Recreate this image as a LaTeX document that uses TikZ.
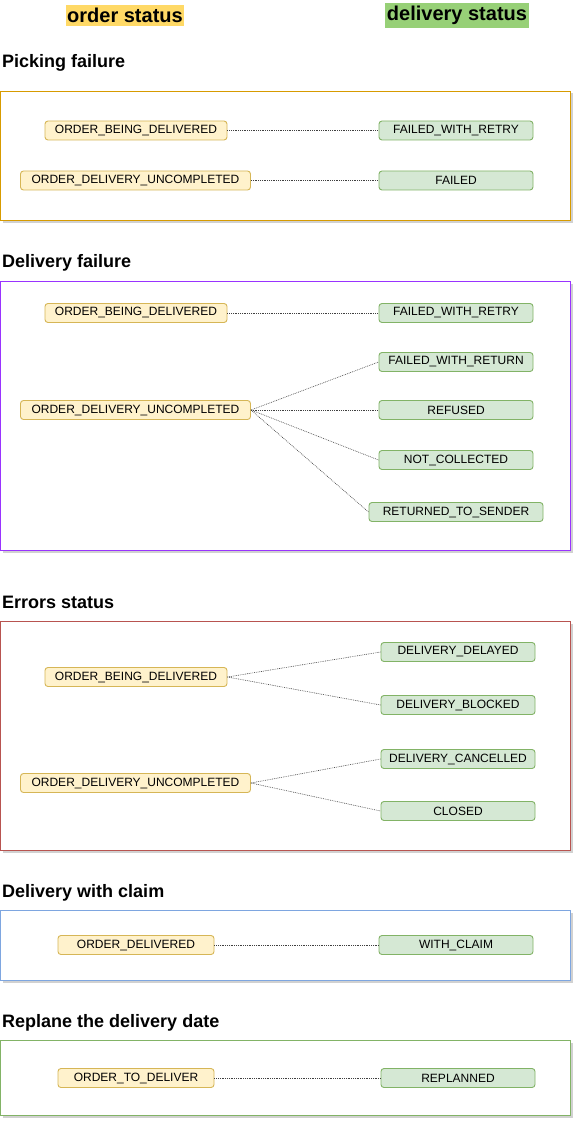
\documentclass[tikz,border=0pt]{standalone}
\usepackage{fontspec}
\setmainfont{Liberation Sans}
\usetikzlibrary{shadows, positioning}

\definecolor{hdrord}{HTML}{FFD966}
\definecolor{hdrdlv}{HTML}{97D077}
\definecolor{ordfill}{HTML}{FFF2CC}
\definecolor{ordline}{HTML}{D6B656}
\definecolor{dlvfill}{HTML}{D5E8D4}
\definecolor{dlvline}{HTML}{82B366}
\definecolor{pickline}{HTML}{D79B00}
\definecolor{failline}{HTML}{9933FF}
\definecolor{errline}{HTML}{B85450}
\definecolor{claimline}{HTML}{7EA6E0}
\definecolor{planline}{HTML}{82B366}

\tikzset{
  ord/.style={draw=ordline, fill=ordfill, line width=0.9pt, rounded corners=3pt,
    minimum height=19pt, inner sep=0pt, font=\fontsize{12}{14}\selectfont},
  dlv/.style={draw=dlvline, fill=dlvfill, line width=0.9pt, rounded corners=3pt,
    minimum height=19pt, minimum width=154pt, inner sep=0pt, font=\fontsize{12}{14}\selectfont},
  head/.style={inner xsep=1.5pt, inner ysep=3.5pt, font=\fontsize{20}{22}\selectfont\bfseries},
  title/.style={anchor=west, inner sep=0pt, font=\fontsize{18}{20}\selectfont\bfseries},
  frame/.style={line width=0.9pt, fill=white,
    drop shadow={opacity=0.3, shadow xshift=2.5pt, shadow yshift=-2.5pt, fill=black!60}},
  link/.style={black!75, line width=0.6pt, dash pattern=on 0.8pt off 1pt},
}

\begin{document}
\begin{tikzpicture}[x=1pt, y=-1pt]

        \useasboundingbox (0, 0) rectangle (574, 1126);

        % column headers
        \node[head, fill=hdrord] (hOrd) at (125, 15.5) {order status};
        \node[head, fill=hdrdlv] (hDlv) at (457, 15.5) {delivery status};

        % Picking failure
        \node[title] (tPick) at (2, 62.5) {Picking failure};
        \draw[frame, draw=pickline] (0, 91) rectangle (570, 220);

        \node[ord, minimum width=182pt] (pBeing) at (136, 130.5) {ORDER\_BEING\_DELIVERED};
        \node[ord, minimum width=230pt] (pUncomp) at (135.5, 180.5) {ORDER\_DELIVERY\_UNCOMPLETED};
        \node[dlv] (pRetry) at (456, 130.5) {FAILED\_WITH\_RETRY};
        \node[dlv] (pFailed) at (456, 180.5) {FAILED};

        \draw[link] (pBeing.east) -- (pRetry.west);
        \draw[link] (pUncomp.east) -- (pFailed.west);

        % Delivery failure
        \node[title] (tFail) at (2, 262.5) {Delivery failure};
        \draw[frame, draw=failline] (0, 281) rectangle (570, 550);

        \node[ord, minimum width=182pt] (fBeing) at (136, 313) {ORDER\_BEING\_DELIVERED};
        \node[ord, minimum width=230pt] (fUncomp) at (135.5, 410) {ORDER\_DELIVERY\_UNCOMPLETED};
        \node[dlv] (fRetry) at (456, 313) {FAILED\_WITH\_RETRY};
        \node[dlv] (fReturn) at (456, 362) {FAILED\_WITH\_RETURN};
        \node[dlv] (fRefused) at (456, 410) {REFUSED};
        \node[dlv] (fNotColl) at (456, 460) {NOT\_COLLECTED};
        \node[dlv, minimum width=174pt] (fSender) at (456, 512) {RETURNED\_TO\_SENDER};

        \draw[link] (fBeing.east) -- (fRetry.west);
        \draw[link] (fUncomp.east) -- (fReturn.west);
        \draw[link] (fUncomp.east) -- (fRefused.west);
        \draw[link] (fUncomp.east) -- (fNotColl.west);
        \draw[link] (fUncomp.east) -- (fSender.west);

        % Errors status
        \node[title] (tErr) at (2, 602.5) {Errors status};
        \draw[frame, draw=errline] (0, 621) rectangle (570, 850);

        \node[ord, minimum width=182pt] (eBeing) at (136, 677) {ORDER\_BEING\_DELIVERED};
        \node[ord, minimum width=230pt] (eUncomp) at (135.5, 783) {ORDER\_DELIVERY\_UNCOMPLETED};
        \node[dlv] (eDelayed) at (458, 652) {DELIVERY\_DELAYED};
        \node[dlv] (eBlocked) at (458, 705) {DELIVERY\_BLOCKED};
        \node[dlv] (eCancel) at (458, 759) {DELIVERY\_CANCELLED};
        \node[dlv] (eClosed) at (458, 811) {CLOSED};

        \draw[link] (eBeing.east) -- (eDelayed.west);
        \draw[link] (eBeing.east) -- (eBlocked.west);
        \draw[link] (eUncomp.east) -- (eCancel.west);
        \draw[link] (eUncomp.east) -- (eClosed.west);

        % Delivery with claim
        \node[title] (tClaim) at (2, 892.5) {Delivery with claim};
        \draw[frame, draw=claimline] (0, 910) rectangle (570, 980);

        \node[ord, minimum width=156pt] (cDeliv) at (136, 945) {ORDER\_DELIVERED};
        \node[dlv] (cClaim) at (456, 945) {WITH\_CLAIM};

        \draw[link] (cDeliv.east) -- (cClaim.west);

        % Replane the delivery date
        \node[title] (tPlan) at (2, 1022.5) {Replane the delivery date};
        \draw[frame, draw=planline] (0, 1040) rectangle (570, 1115);

        \node[ord, minimum width=156pt] (rDeliver) at (136, 1078) {ORDER\_TO\_DELIVER};
        \node[dlv] (rPlanned) at (458, 1078) {REPLANNED};

        \draw[link] (rDeliver.east) -- (rPlanned.west);

\end{tikzpicture}
\end{document}
